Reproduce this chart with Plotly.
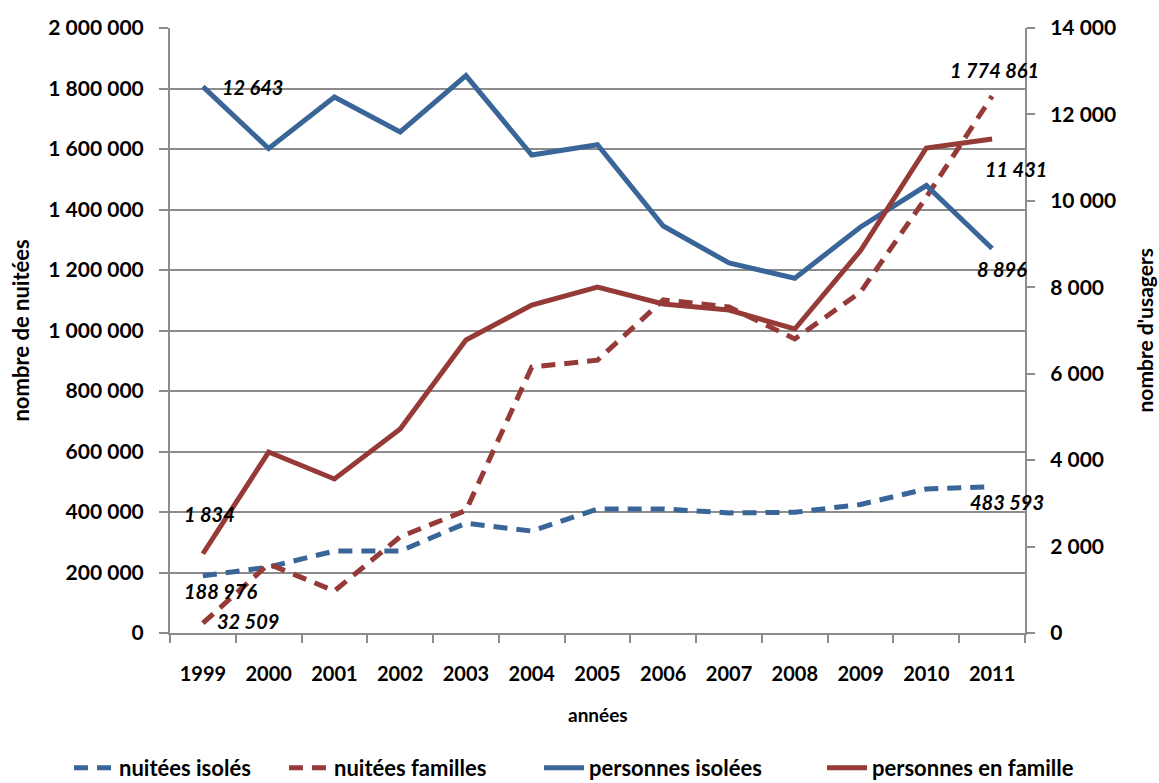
import plotly.graph_objects as go

years = [str(y) for y in range(1999, 2012)]

nuitees_isoles = [188976, 218000, 271000, 271000, 363000, 337000, 410000,
                  410000, 397000, 399000, 425000, 476000, 483593]
nuitees_familles = [32509, 228000, 139000, 318000, 405000, 879000, 902000,
                    1101000, 1078000, 972000, 1127000, 1441000, 1774861]
personnes_isolees = [12643, 11210, 12403, 11593, 12900, 11061, 11300,
                     9418, 8562, 8210, 9395, 10355, 8896]
personnes_famille = [1834, 4188, 3564, 4721, 6780, 7590, 8007,
                     7613, 7474, 7035, 8850, 11223, 11431]

BLUE = "#3a6598"
RED = "#963a38"
GRID = "#8c8c8c"
FONT = "Lato"


def fmt(v):
    return f"{v:,}".replace(",", " ")


fig = go.Figure()
fig.add_trace(go.Scatter(x=years, y=nuitees_isoles, name="nuitées isolés", mode="lines",
                         legend="legend",
                         line=dict(color=BLUE, width=5, dash="14px,9px")))
fig.add_trace(go.Scatter(x=years, y=nuitees_familles, name="nuitées familles", mode="lines",
                         legend="legend2",
                         line=dict(color=RED, width=5, dash="14px,9px")))
fig.add_trace(go.Scatter(x=years, y=personnes_isolees, name="personnes isolées", mode="lines",
                         yaxis="y2", legend="legend3", line=dict(color=BLUE, width=5)))
fig.add_trace(go.Scatter(x=years, y=personnes_famille, name="personnes en famille", mode="lines",
                         yaxis="y2", legend="legend4", line=dict(color=RED, width=5)))

# data labels: (series, index, axis, xshift, yshift)
labels = [
    (personnes_isolees, 0, "y2", 50, 0),
    (personnes_famille, 0, "y2", 7, 40),
    (nuitees_isoles, 0, "y", 18, -15),
    (nuitees_familles, 0, "y", 45, 2),
    (nuitees_familles, 12, "y", 2, 26),
    (personnes_famille, 12, "y2", 24, -30),
    (personnes_isolees, 12, "y2", 10, -20),
    (nuitees_isoles, 12, "y", 15, -15),
]
annotations = []
for series, i, ax, dx, dy in labels:
    annotations.append(dict(
        x=i, y=series[i], xref="x", yref=ax, text=f"<i>{fmt(series[i])}</i>",
        showarrow=False, xshift=dx, yshift=dy,
        font=dict(family=FONT, size=20, color="black"),
    ))

annotations += [
    dict(x=-0.1754, y=0.5, xref="paper", yref="paper", text="nombre de nuitées",
         xanchor="center", yanchor="middle",
         textangle=-90, showarrow=False, font=dict(family=FONT, size=22, color="black")),
    dict(x=1.1392, y=0.5, xref="paper", yref="paper", text="nombre d'usagers",
         xanchor="center", yanchor="middle",
         textangle=-90, showarrow=False, font=dict(family=FONT, size=21, color="black")),
    dict(x=0.5, y=-0.1355, xref="paper", yref="paper", text="années",
         xanchor="center", yanchor="middle",
         showarrow=False, font=dict(family=FONT, size=19, color="black")),
]

legend_style = dict(orientation="h", xanchor="left", y=-0.223, yanchor="middle",
                    font=dict(size=22), itemwidth=40, bgcolor="rgba(0,0,0,0)")

fig.update_layout(
    width=1159, height=783,
    template="plotly_white",
    paper_bgcolor="white", plot_bgcolor="white",
    separators=", ",
    margin=dict(l=170, r=134, t=28, b=150, autoexpand=False),
    font=dict(family=FONT, size=20, color="black", weight="bold"),
    showlegend=True,
    legend=dict(x=-0.1181, **legend_style),
    legend2=dict(x=0.1333, **legend_style),
    legend3=dict(x=0.4316, **legend_style),
    legend4=dict(x=0.7626, **legend_style),
    annotations=annotations,
    xaxis=dict(
        type="category", range=[-0.5, 12.5], showgrid=False, showline=True,
        linecolor=GRID, linewidth=2, automargin=False,
        ticks="outside", tickson="boundaries", ticklen=8, tickcolor=GRID, tickwidth=2,
        ticklabelstandoff=22, tickfont=dict(size=20),
    ),
    yaxis=dict(
        range=[0, 2000000], dtick=200000, tickformat=",d", automargin=False,
        showgrid=True, gridcolor=GRID, gridwidth=2,
        showline=True, linecolor=GRID, linewidth=2,
        ticks="outside", ticklen=9, tickcolor=GRID, tickwidth=2,
        ticklabelstandoff=11, zeroline=False, tickfont=dict(size=21),
    ),
    yaxis2=dict(
        range=[0, 14000], dtick=2000, tickformat=",d", overlaying="y", side="right",
        showgrid=False, showline=True, linecolor=GRID, linewidth=2, automargin=False,
        ticks="outside", ticklen=8, tickcolor=GRID, tickwidth=2,
        ticklabelstandoff=11, zeroline=False, tickfont=dict(size=21),
    ),
)

fig.write_html("out.html", config={"displayModeBar": False},
               post_script="document.body.style.margin = '0';")
